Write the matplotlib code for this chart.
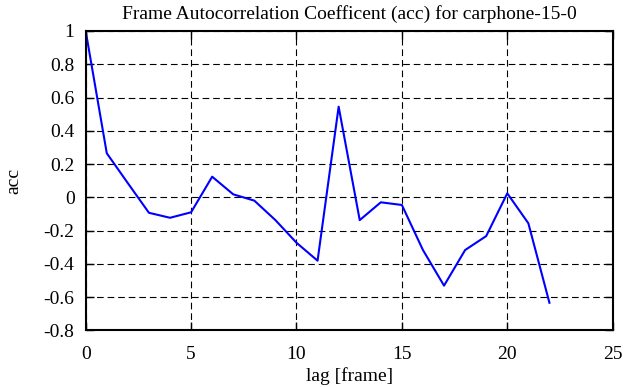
import matplotlib
matplotlib.use("Agg")
import matplotlib.pyplot as plt

lags = list(range(23))
acc = [1.0, 0.265, 0.085, -0.093, -0.123, -0.09, 0.124, 0.018, -0.02, -0.137,
       -0.273, -0.381, 0.545, -0.137, -0.03, -0.046, -0.317, -0.531, -0.317,
       -0.233, 0.024, -0.156, -0.634]
xticks = [0, 5, 10, 15, 20, 25]
yticks = [-0.8, -0.6, -0.4, -0.2, 0, 0.2, 0.4, 0.6, 0.8, 1]
yticklabels = ["-0.8", "-0.6", "-0.4", "-0.2", "0", "0.2", "0.4", "0.6", "0.8", "1"]

plt.rcParams['font.family'] = ['Liberation Serif', 'DejaVu Serif']
plt.rcParams['font.size'] = 14

fig = plt.figure(figsize=(6.41, 3.87), dpi=100)
ax = fig.add_axes([0.1337, 0.1463, 0.9558 - 0.1337, 0.9199 - 0.1463])
ax.plot(lags, acc, color=(0, 0, 1), lw=1.5)
ax.set_xlim(0, 25)
ax.set_ylim(-0.8, 1)
ax.set_xticks(xticks)
ax.set_xticklabels([str(t) for t in xticks])
ax.set_yticks(yticks)
ax.set_yticklabels(yticklabels)
ax.grid(True, color='black', linestyle=(0, (6, 3.5)), linewidth=0.8)
ax.tick_params(direction='in', top=True, right=True, length=6, width=1, labelsize=14)
ax.tick_params(axis='x', pad=11)
ax.tick_params(axis='y', pad=8)
for s in ax.spines.values():
    s.set_linewidth(1.5)
ax.set_title("Frame Autocorrelation Coefficent (acc) for carphone-15-0", fontsize=14, pad=9)
ax.set_xlabel("lag [frame]", fontsize=14, labelpad=3)
ax.set_ylabel("acc", fontsize=14, labelpad=15)
fig.savefig("out.png", dpi=100)
